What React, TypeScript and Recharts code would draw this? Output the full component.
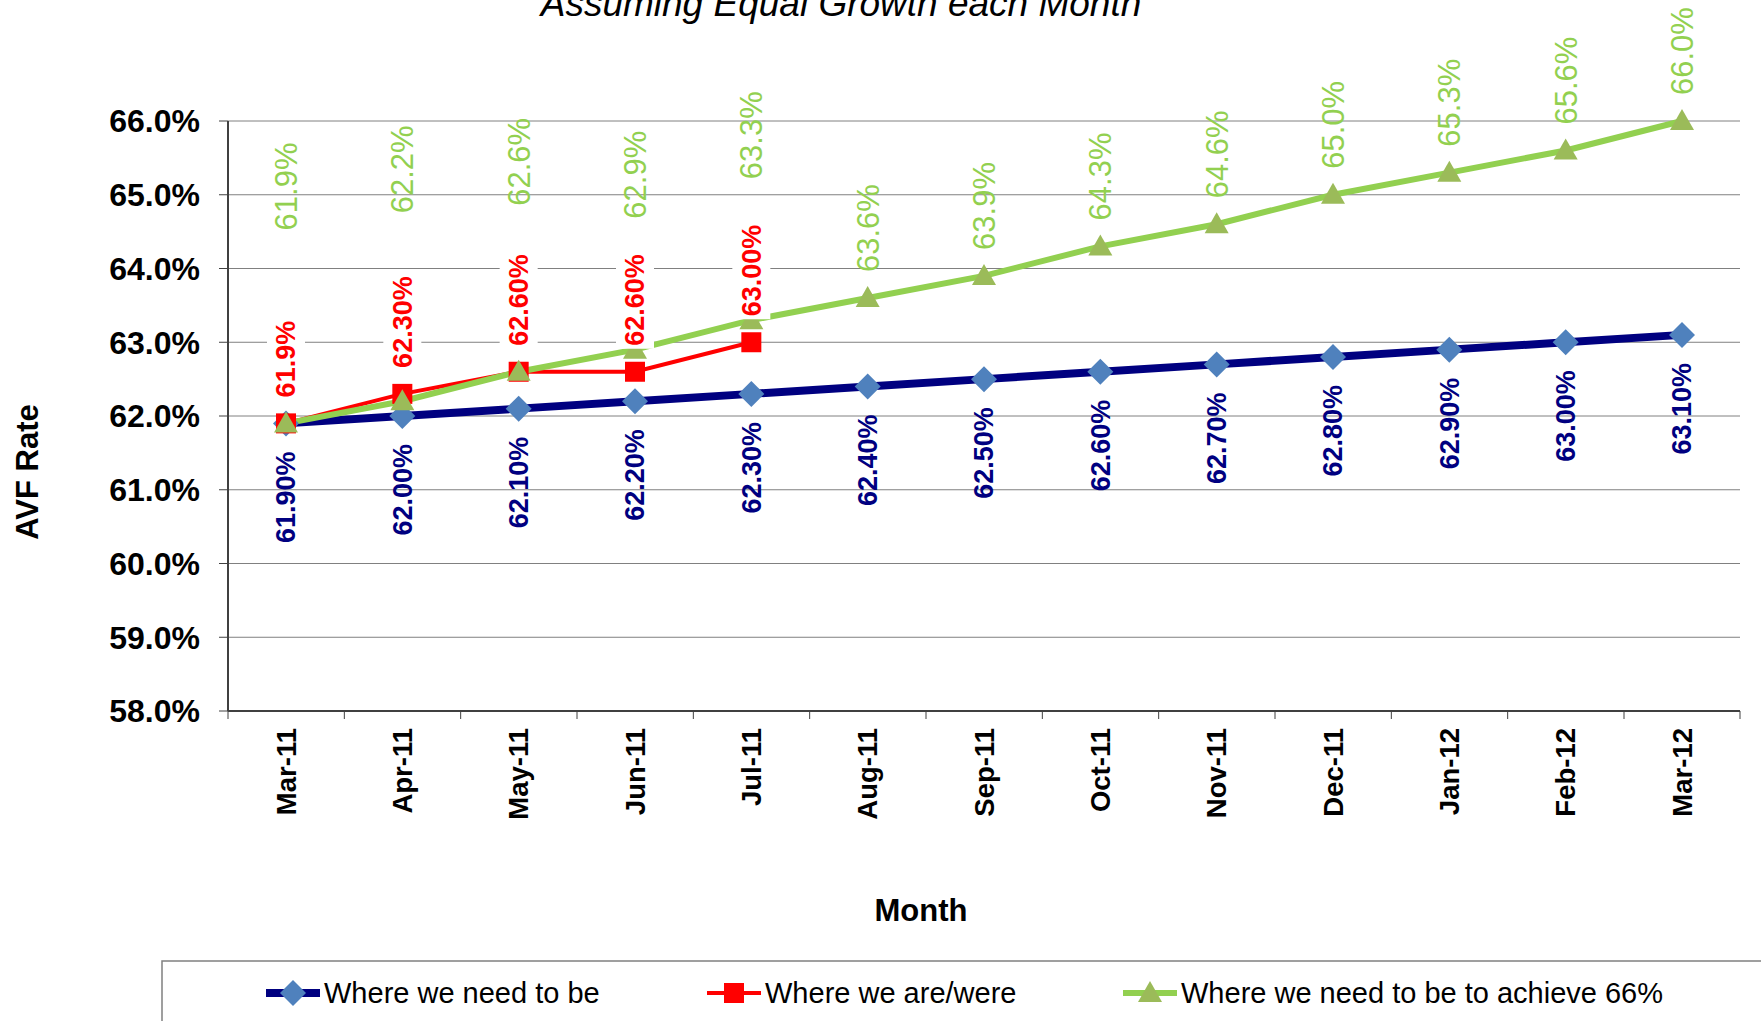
import React from 'react';
import { LineChart, Line, XAxis, YAxis, CartesianGrid, Legend, LabelList } from 'recharts';

const months = ['Mar-11', 'Apr-11', 'May-11', 'Jun-11', 'Jul-11', 'Aug-11', 'Sep-11', 'Oct-11', 'Nov-11', 'Dec-11', 'Jan-12', 'Feb-12', 'Mar-12'];
const whereWeNeedToBe = [61.9, 62.0, 62.1, 62.2, 62.3, 62.4, 62.5, 62.6, 62.7, 62.8, 62.9, 63.0, 63.1];
const whereWeAreWere = [61.9, 62.3, 62.6, 62.6, 63.0];
const toAchieve66 = [61.9, 62.2, 62.6, 62.9, 63.3, 63.6, 63.9, 64.3, 64.6, 65.0, 65.3, 65.6, 66.0];
const yTicks = [58, 59, 60, 61, 62, 63, 64, 65, 66];
const areWereLabelDecimals = [1, 2, 2, 2, 2];

// layout: how far above its point each green label starts (px)
const achieveLabelLift = [193, 188, 166, 131, 141, 26, 26, 26, 26, 26, 26, 26, 26];

const seriesNames = ['Where we need to be', 'Where we are/were', 'Where we need to be to achieve 66%'];

const data = months.map((m, i) => ({
  month: m,
  need: whereWeNeedToBe[i],
  are: whereWeAreWere[i] ?? null,
  ach: toAchieve66[i],
}));

const FONT = '"Liberation Sans", Arial, Helvetica, sans-serif';
const NAVY = '#000080';
const BLUE_FILL = '#4F81BD';
const RED = '#FF0000';
const GREEN = '#92D050';
const GREEN_FILL = '#9BBB59';
const HALF_BAND = 58;

const boldW: Record<string, number> = { '.': 0.278, '%': 0.889 };
const textWidth = (s: string, fs: number) =>
  s.split('').reduce((a, c) => a + (boldW[c] ?? 0.556), 0) * fs;

const Diamond = (props: any) => {
  const { cx, cy } = props;
  if (cx == null || cy == null) return null;
  const r = 13;
  return <polygon points={`${cx},${cy - r} ${cx + r},${cy} ${cx},${cy + r} ${cx - r},${cy}`} fill={BLUE_FILL} />;
};
const Square = (props: any) => {
  const { cx, cy } = props;
  if (cx == null || cy == null) return null;
  const r = 10;
  return <rect x={cx - r} y={cy - r} width={2 * r} height={2 * r} fill={RED} />;
};
const Triangle = (props: any) => {
  const { cx, cy } = props;
  if (cx == null || cy == null) return null;
  return <polygon points={`${cx},${cy - 12} ${cx + 12},${cy + 9} ${cx - 12},${cy + 9}`} fill={GREEN_FILL} />;
};

const BlueLabel = (props: any) => {
  const { x, y, value } = props;
  if (value == null || x == null) return null;
  return (
    <text transform={`translate(${x},${y + 28}) rotate(-90)`} textAnchor="end" dy="0.35em"
      fill={NAVY} fontWeight="bold" fontSize={27} fontFamily={FONT}>
      {`${Number(value).toFixed(2)}%`}
    </text>
  );
};

const RedLabel = (props: any) => {
  const { x, y, value, index } = props;
  if (value == null || x == null) return null;
  const s = `${Number(value).toFixed(areWereLabelDecimals[index] ?? 2)}%`;
  const w = textWidth(s, 27);
  return (
    <g transform={`translate(${x},${y - 26}) rotate(-90)`}>
      <rect x={-3} y={-19} width={w + 6} height={38} fill="#fff" />
      <text textAnchor="start" dy="0.35em" fill={RED} fontWeight="bold" fontSize={27} fontFamily={FONT}>{s}</text>
    </g>
  );
};

const GreenLabel = (props: any) => {
  const { x, y, value, index } = props;
  if (value == null || x == null) return null;
  return (
    <text transform={`translate(${x},${y - achieveLabelLift[index]}) rotate(-90)`} textAnchor="start" dy="0.35em"
      fill={GREEN} fontSize={31} fontFamily={FONT}>
      {`${Number(value).toFixed(1)}%`}
    </text>
  );
};

const MonthTick = (props: any) => {
  const { x, y, payload, index } = props;
  return (
    <g>
      <line x1={x - HALF_BAND} x2={x - HALF_BAND} y1={y - 8} y2={y} stroke="#404040" strokeWidth={1} />
      {index === months.length - 1 && (
        <line x1={x + HALF_BAND} x2={x + HALF_BAND} y1={y - 8} y2={y} stroke="#404040" strokeWidth={1} />
      )}
      <text transform={`translate(${x},${y + 9}) rotate(-90)`} textAnchor="end" dy="0.35em"
        fontWeight="bold" fontSize={27.5} fontFamily={FONT} fill="#000">
        {payload.value}
      </text>
    </g>
  );
};

const legendSamples = [
  { name: seriesNames[0], color: NAVY, width: 8, Marker: Diamond },
  { name: seriesNames[1], color: RED, width: 4, Marker: Square },
  { name: seriesNames[2], color: GREEN, width: 6, Marker: Triangle },
];
const legendOffsets = [105, 546, 962];

const LegendBox = () => (
  <svg width={1620} height={70} style={{ display: 'block' }}>
    <rect x={1} y={1} width={1660} height={100} fill="#fff" stroke="#808080" strokeWidth={1.5} />
    {legendSamples.map((s, i) => {
      const x0 = legendOffsets[i];
      const M = s.Marker;
      return (
        <g key={s.name}>
          <line x1={x0} x2={x0 + 54} y1={33} y2={33} stroke={s.color} strokeWidth={s.width} />
          <M cx={x0 + 27} cy={33} />
          <text x={x0 + 58} y={33} dy="0.35em" fontSize={29} fontFamily={FONT} fill="#000">{s.name}</text>
        </g>
      );
    })}
  </svg>
);

export default function App() {
  return (
    <div style={{ position: 'absolute', left: 0, top: 0, width: 1761, height: 1021, background: '#fff' }}>
      <LineChart width={1761} height={1021} data={data} margin={{ top: 121, right: 21, bottom: 190, left: 0 }}>
        <CartesianGrid vertical={false} stroke="#808080" strokeWidth={1} />
        <XAxis dataKey="month" interval={0} height={120} padding={{ left: HALF_BAND, right: HALF_BAND }}
          tickLine={false} axisLine={{ stroke: '#404040', strokeWidth: 2 }} tick={<MonthTick />} />
        <YAxis domain={[58, 66]} ticks={yTicks} interval={0} width={228} tickSize={9} tickMargin={19}
          tickFormatter={(v: number) => `${v.toFixed(1)}%`}
          axisLine={{ stroke: '#404040', strokeWidth: 2 }} tickLine={{ stroke: '#404040' }}
          tick={{ fontSize: 32, fontWeight: 'bold', fill: '#000', fontFamily: FONT }} />
        <YAxis yAxisId="r" orientation="right" width={0} domain={[0, 1]} tick={false} tickLine={false}
          axisLine={{ stroke: '#808080', strokeWidth: 2 }} />
        <Line dataKey="need" name={seriesNames[0]} stroke={NAVY} strokeWidth={8} dot={<Diamond />} activeDot={false} isAnimationActive={false}>
          <LabelList dataKey="need" content={<BlueLabel />} />
        </Line>
        <Line dataKey="are" name={seriesNames[1]} stroke={RED} strokeWidth={4} dot={<Square />} activeDot={false} isAnimationActive={false} />
        <Line dataKey="ach" name={seriesNames[2]} stroke={GREEN} strokeWidth={6} dot={<Triangle />} activeDot={false} isAnimationActive={false}>
          <LabelList dataKey="ach" content={<GreenLabel />} />
        </Line>
        <Line dataKey="are" stroke="none" dot={false} activeDot={false} legendType="none" isAnimationActive={false}>
          <LabelList dataKey="are" content={<RedLabel />} />
        </Line>
        <Legend layout="vertical" align="center" verticalAlign="middle" content={<LegendBox />}
          wrapperStyle={{ left: 161, top: 960, width: 1620, height: 70, margin: 0 }} />
        <text x={841} y={16} textAnchor="middle" fontSize={37} fontStyle="italic" fontFamily={FONT} fill="#000">
          Assuming Equal Growth each Month
        </text>
        <text transform="translate(27,472) rotate(-90)" textAnchor="middle" dy="0.35em" fontSize={31} fontWeight="bold" fontFamily={FONT} fill="#000">
          AVF Rate
        </text>
        <text x={921} y={910} textAnchor="middle" dy="0.35em" fontSize={31} fontWeight="bold" fontFamily={FONT} fill="#000">
          Month
        </text>
      </LineChart>
    </div>
  );
}
